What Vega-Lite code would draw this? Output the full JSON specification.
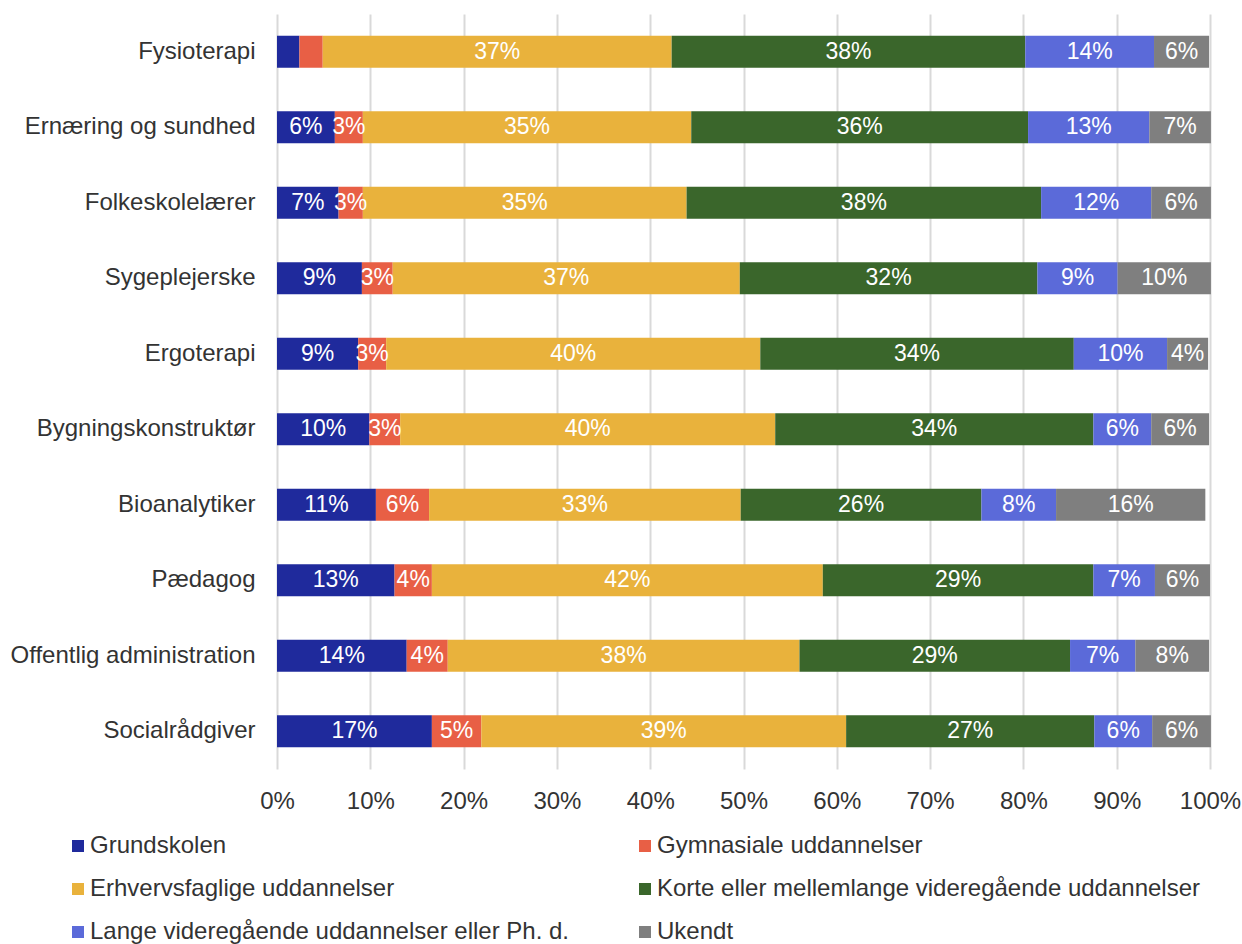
{
  "$schema": "https://vega.github.io/schema/vega-lite/v6.json",
  "autosize": {"type": "none"},
  "width": 933,
  "height": 755,
  "padding": {"left": 277, "top": 14, "right": 32, "bottom": 175},
  "background": "white",
  "config": {
    "view": {"stroke": null},
    "font": "Liberation Sans",
    "axis": {"labelColor": "#333333", "labelFont": "Liberation Sans"},
    "legend": {"labelColor": "#333333", "labelFont": "Liberation Sans"}
  },
  "datasets": {
    "cats": [
      {"k": "a", "c": "Grundskolen", "i": 1},
      {"k": "b", "c": "Gymnasiale uddannelser", "i": 2},
      {"k": "e", "c": "Erhvervsfaglige uddannelser", "i": 3},
      {"k": "m", "c": "Korte eller mellemlange videregående uddannelser", "i": 4},
      {"k": "l", "c": "Lange videregående uddannelser eller Ph. d.", "i": 5},
      {"k": "u", "c": "Ukendt", "i": 6}
    ]
  },
  "data": {
    "values": [
      {"g": "Fysioterapi", "a": 2.4, "b": 2.5, "e": 37.4, "m": 37.9, "l": 13.8, "u": 5.9},
      {"g": "Ernæring og sundhed", "a": 6.2, "b": 3.0, "e": 35.2, "m": 36.1, "l": 13.0, "u": 6.6},
      {"g": "Folkeskolelærer", "a": 6.6, "b": 2.6, "e": 34.7, "m": 38.0, "l": 11.8, "u": 6.4},
      {"g": "Sygeplejerske", "a": 9.1, "b": 3.3, "e": 37.2, "m": 31.9, "l": 8.6, "u": 10.0},
      {"g": "Ergoterapi", "a": 8.7, "b": 3.0, "e": 40.1, "m": 33.6, "l": 10.0, "u": 4.4},
      {"g": "Bygningskonstruktør", "a": 9.9, "b": 3.3, "e": 40.2, "m": 34.1, "l": 6.2, "u": 6.2},
      {"g": "Bioanalytiker", "a": 10.6, "b": 5.7, "e": 33.4, "m": 25.8, "l": 8.0, "u": 16.0},
      {"g": "Pædagog", "a": 12.6, "b": 4.0, "e": 41.9, "m": 29.0, "l": 6.6, "u": 5.9},
      {"g": "Offentlig administration", "a": 13.9, "b": 4.4, "e": 37.7, "m": 29.0, "l": 7.0, "u": 7.9},
      {"g": "Socialrådgiver", "a": 16.6, "b": 5.3, "e": 39.1, "m": 26.6, "l": 6.2, "u": 6.3}
    ]
  },
  "transform": [
    {"fold": ["a", "b", "e", "m", "l", "u"], "as": ["k", "v"]},
    {"lookup": "k", "from": {"data": {"name": "cats"}, "key": "k", "fields": ["c", "i"]}},
    {"stack": "v", "groupby": ["g"], "sort": [{"field": "i", "order": "ascending"}], "as": ["v0", "v1"]}
  ],
  "encoding": {
    "y": {
      "field": "g",
      "type": "nominal",
      "sort": ["Fysioterapi", "Ernæring og sundhed", "Folkeskolelærer", "Sygeplejerske", "Ergoterapi", "Bygningskonstruktør", "Bioanalytiker", "Pædagog", "Offentlig administration", "Socialrådgiver"],
      "scale": {"paddingInner": 0.576, "paddingOuter": 0.288},
      "axis": {"title": null, "domain": false, "ticks": false, "labelFontSize": 24, "labelPadding": 22, "labelLimit": 400}
    }
  },
  "layer": [
    {
      "mark": {"type": "bar"},
      "encoding": {
        "x": {
          "field": "v0",
          "type": "quantitative",
          "scale": {"domain": [0, 100], "nice": false},
          "axis": {
            "title": null,
            "values": [0, 10, 20, 30, 40, 50, 60, 70, 80, 90, 100],
            "labelExpr": "datum.value + '%'",
            "labelFontSize": 24,
            "labelPadding": 20,
            "labelFlush": false,
            "labelOverlap": false,
            "domain": false,
            "ticks": false,
            "tickSize": 0,
            "grid": true,
            "gridColor": "#d9d9d9",
            "gridWidth": 2
          }
        },
        "x2": {"field": "v1"},
        "color": {
          "field": "c",
          "type": "nominal",
          "scale": {
            "domain": ["Grundskolen", "Gymnasiale uddannelser", "Erhvervsfaglige uddannelser", "Korte eller mellemlange videregående uddannelser", "Lange videregående uddannelser eller Ph. d.", "Ukendt"],
            "range": ["#1f2a9c", "#e85f45", "#e9b23c", "#3a662b", "#5b6ad9", "#7f7f7f"]
          },
          "legend": {
            "title": null,
            "orient": "none",
            "legendX": -211,
            "legendY": 820,
            "columns": 2,
            "direction": "horizontal",
            "columnPadding": 63,
            "rowPadding": 19,
            "padding": 0,
            "symbolType": "square",
            "symbolSize": 144,
            "symbolStrokeWidth": 0,
            "symbolOpacity": 1,
            "labelFontSize": 24,
            "labelOffset": 0,
            "labelLimit": 700
          }
        }
      }
    },
    {
      "transform": [
        {"filter": "datum.v >= 2.55"},
        {"calculate": "(datum.v0 + datum.v1) / 2", "as": "mid"},
        {"calculate": "format(datum.v / 100, '.0%')", "as": "lab"}
      ],
      "mark": {"type": "text", "color": "white", "fontSize": 23, "baseline": "middle", "align": "center"},
      "encoding": {
        "x": {"field": "mid", "type": "quantitative"},
        "text": {"field": "lab"}
      }
    }
  ]
}
